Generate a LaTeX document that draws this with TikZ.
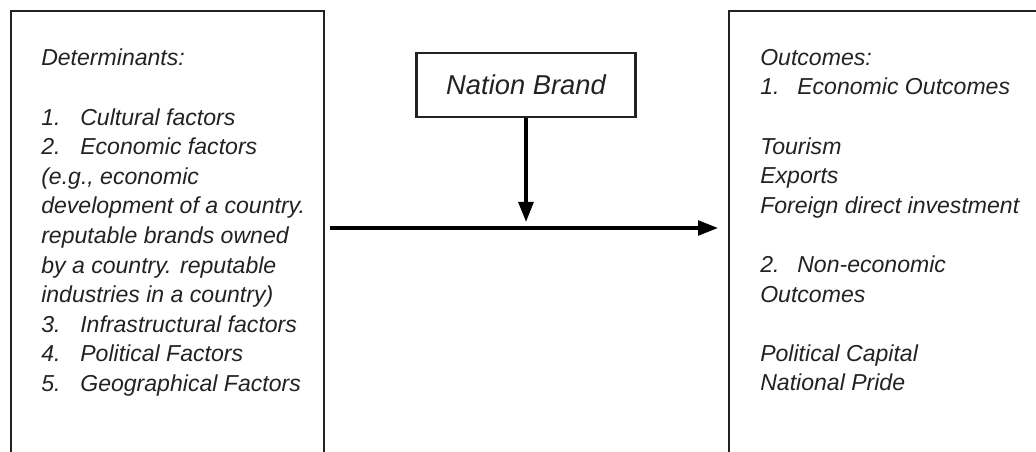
\documentclass[tikz,border=0pt]{standalone}
\usepackage{fontspec}
\setmainfont{Liberation Sans}
\usetikzlibrary{arrows.meta, positioning}
\definecolor{inkgray}{HTML}{222222}
\tikzset{x=0.75pt, y=-0.75pt, % one unit is one pixel of the reference
framebox/.style={ % the two tall boxes, open at the bottom
draw=inkgray, line width=1.7pt, inner sep=0pt,
minimum width=#1, minimum height=380pt, anchor=north west},
listtext/.style={ % the lists written inside them
inner sep=0pt, anchor=north west, align=left, text=inkgray,
font=\fontsize{17.3}{22.2}\selectfont\itshape},
flow/.style={ % the two arrows
draw=black, line width=2.6pt,
-{Triangle[length=15pt, width=11pt]}}}
\newcommand{\numitem}[2]{\makebox[#1][l]{#2}}

\begin{document}
\begin{tikzpicture}

    \useasboundingbox (0,0) rectangle (1036,452);
    \clip (0,0) rectangle (1036,452);

    \node[framebox=234.75pt] (detbox) at (10,10) {};
    \node[framebox=300pt] (outbox) at (728,10) {};
    \node[draw=inkgray, line width=1.9pt, minimum width=164pt, minimum height=48pt,
          text=inkgray, font=\fontsize{20.5}{24}\selectfont\itshape] (brand) at (526,85) {Nation Brand};

    \node[listtext] (dettext) at (41,49) {Determinants:\\[22.2pt]
        \numitem{29.3pt}{1.}Cultural factors\\
        \numitem{29.3pt}{2.}Economic factors\\
        (e.g., economic\\
        development of a country.\\
        reputable brands owned\\
        by a country. reputable\\
        industries in a country)\\
        \numitem{29.3pt}{3.}Infrastructural factors\\
        \numitem{29.3pt}{4.}Political Factors\\
        \numitem{29.3pt}{5.}Geographical Factors};

    \node[listtext] (outtext) at (760,49) {Outcomes:\\
        \numitem{27.8pt}{1.}Economic Outcomes\\[22.2pt]
        Tourism\\
        Exports\\
        Foreign direct investment\\[22.2pt]
        \numitem{27.8pt}{2.}Non-economic\\
        Outcomes\\[22.2pt]
        Political Capital\\
        National Pride};

    \coordinate (mid) at (525,228);
    \draw[flow] ([xshift=3.8pt]detbox.north east |- mid) -- ([xshift=-7.5pt]outbox.north west |- mid);
    \draw[flow] (brand.south) -- ([yshift=4.5pt]brand.south |- mid);

\end{tikzpicture}
\end{document}
